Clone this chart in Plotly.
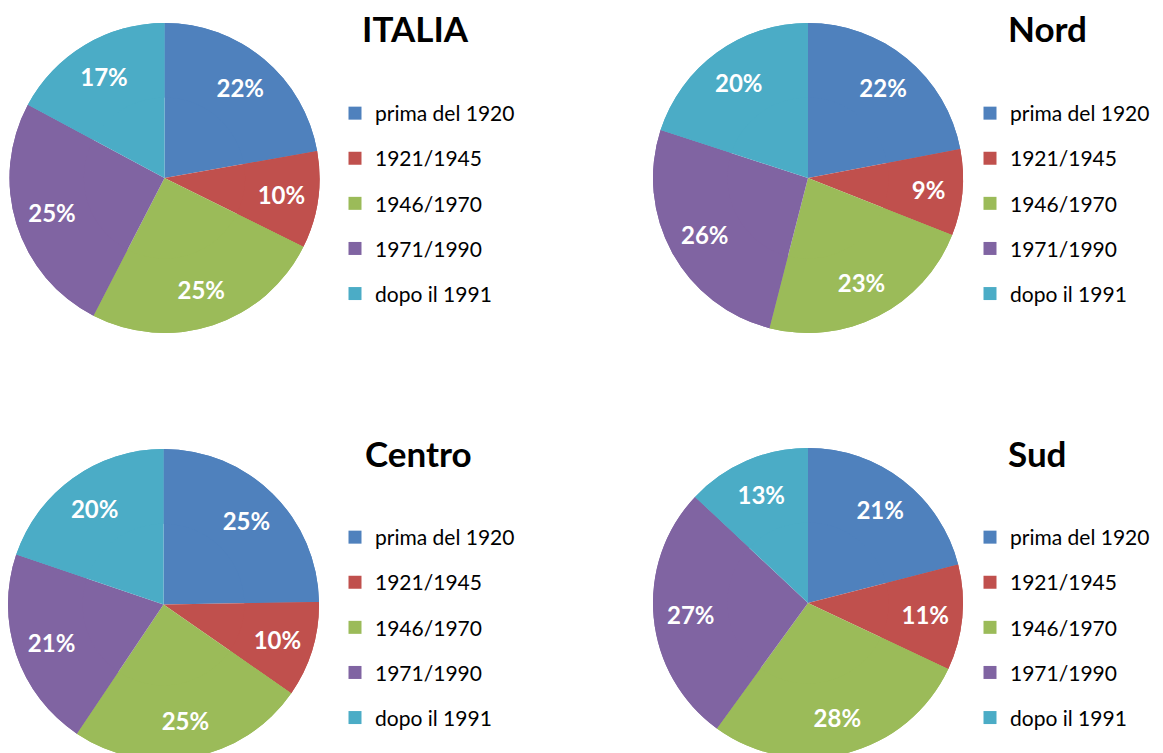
import plotly.graph_objects as go

categories = ["prima del 1920", "1921/1945", "1946/1970", "1971/1990", "dopo il 1991"]
italia = [22, 10, 25, 25, 17]
nord = [22, 9, 23, 26, 20]
centro = [25, 10, 25, 21, 20]
sud = [21, 11, 28, 27, 13]
titles = ["ITALIA", "Nord", "Centro", "Sud"]
colors = ["#4F81BD", "#C0504D", "#9BBB59", "#8064A2", "#4BACC6"]

W, H = 1163, 753
FONT = "Lato"

# pie boxes in figure pixels: (x0, x1), (y0, y1) from top
pies = [
    (italia, (1, 312), (15, 325)),
    (nord, (645, 955), (15, 325)),
    (centro, (0, 311), (441, 752)),
    (sud, (645, 955), (440, 750)),
]
legend_pos = [(327, 85), (962, 85), (327, 509), (962, 509)]
title_pos = [(407, 20.5), (1039.5, 20.5), (410.5, 445), (1029, 445)]
legend_names = ["legend", "legend2", "legend3", "legend4"]
edge = dict(width=0)

fig = go.Figure()
for i, (vals, (x0, x1), (y0, y1)) in enumerate(pies):
    dom = dict(x=[x0 / W, x1 / W], y=[1 - y1 / H, 1 - y0 / H])
    # full pie underneath
    fig.add_trace(go.Pie(
        labels=categories, values=vals, sort=False, direction="clockwise",
        rotation=0, marker=dict(colors=colors, line=edge),
        textinfo="none", hoverinfo="skip", domain=dom, showlegend=False,
    ))
    # ring on top carrying the labels (positions labels toward the rim)
    fig.add_trace(go.Pie(
        labels=categories, values=vals, sort=False, direction="clockwise",
        rotation=0, hole=0.52, marker=dict(colors=colors, line=edge),
        texttemplate="%{value}%", textposition="inside",
        insidetextorientation="horizontal",
        textfont=dict(family=FONT, size=24, color="white", weight="bold"),
        domain=dom, showlegend=False, name=titles[i],
    ))
    for c, col in zip(categories, colors):
        fig.add_trace(go.Scatter(
            x=[None], y=[None], mode="markers", name=c,
            marker=dict(symbol="square", size=13, color=col, line=dict(width=0)),
            legend=legend_names[i], legendgroup=f"{i}-{c}", showlegend=True,
            hoverinfo="skip",
        ))

layout = dict(
    width=W, height=H, margin=dict(l=0, r=0, t=0, b=0, autoexpand=False),
    paper_bgcolor="white", plot_bgcolor="white",
    xaxis=dict(visible=False), yaxis=dict(visible=False),
    annotations=[
        dict(text=f"<b>{t}</b>", x=px / W, y=1 - py / H, xref="paper", yref="paper",
             showarrow=False, xanchor="center", yanchor="middle",
             font=dict(family=FONT, size=35, color="black"))
        for t, (px, py) in zip(titles, title_pos)
    ],
)
for name, (lx, ly) in zip(legend_names, legend_pos):
    layout[name] = dict(
        x=lx / W, y=1 - ly / H, xanchor="left", yanchor="top",
        font=dict(family=FONT, size=21, color="black"),
        tracegroupgap=14.8, traceorder="grouped", bgcolor="rgba(0,0,0,0)",
        itemclick=False, itemdoubleclick=False,
    )
fig.update_layout(**layout)
fig.write_html("out.html")
